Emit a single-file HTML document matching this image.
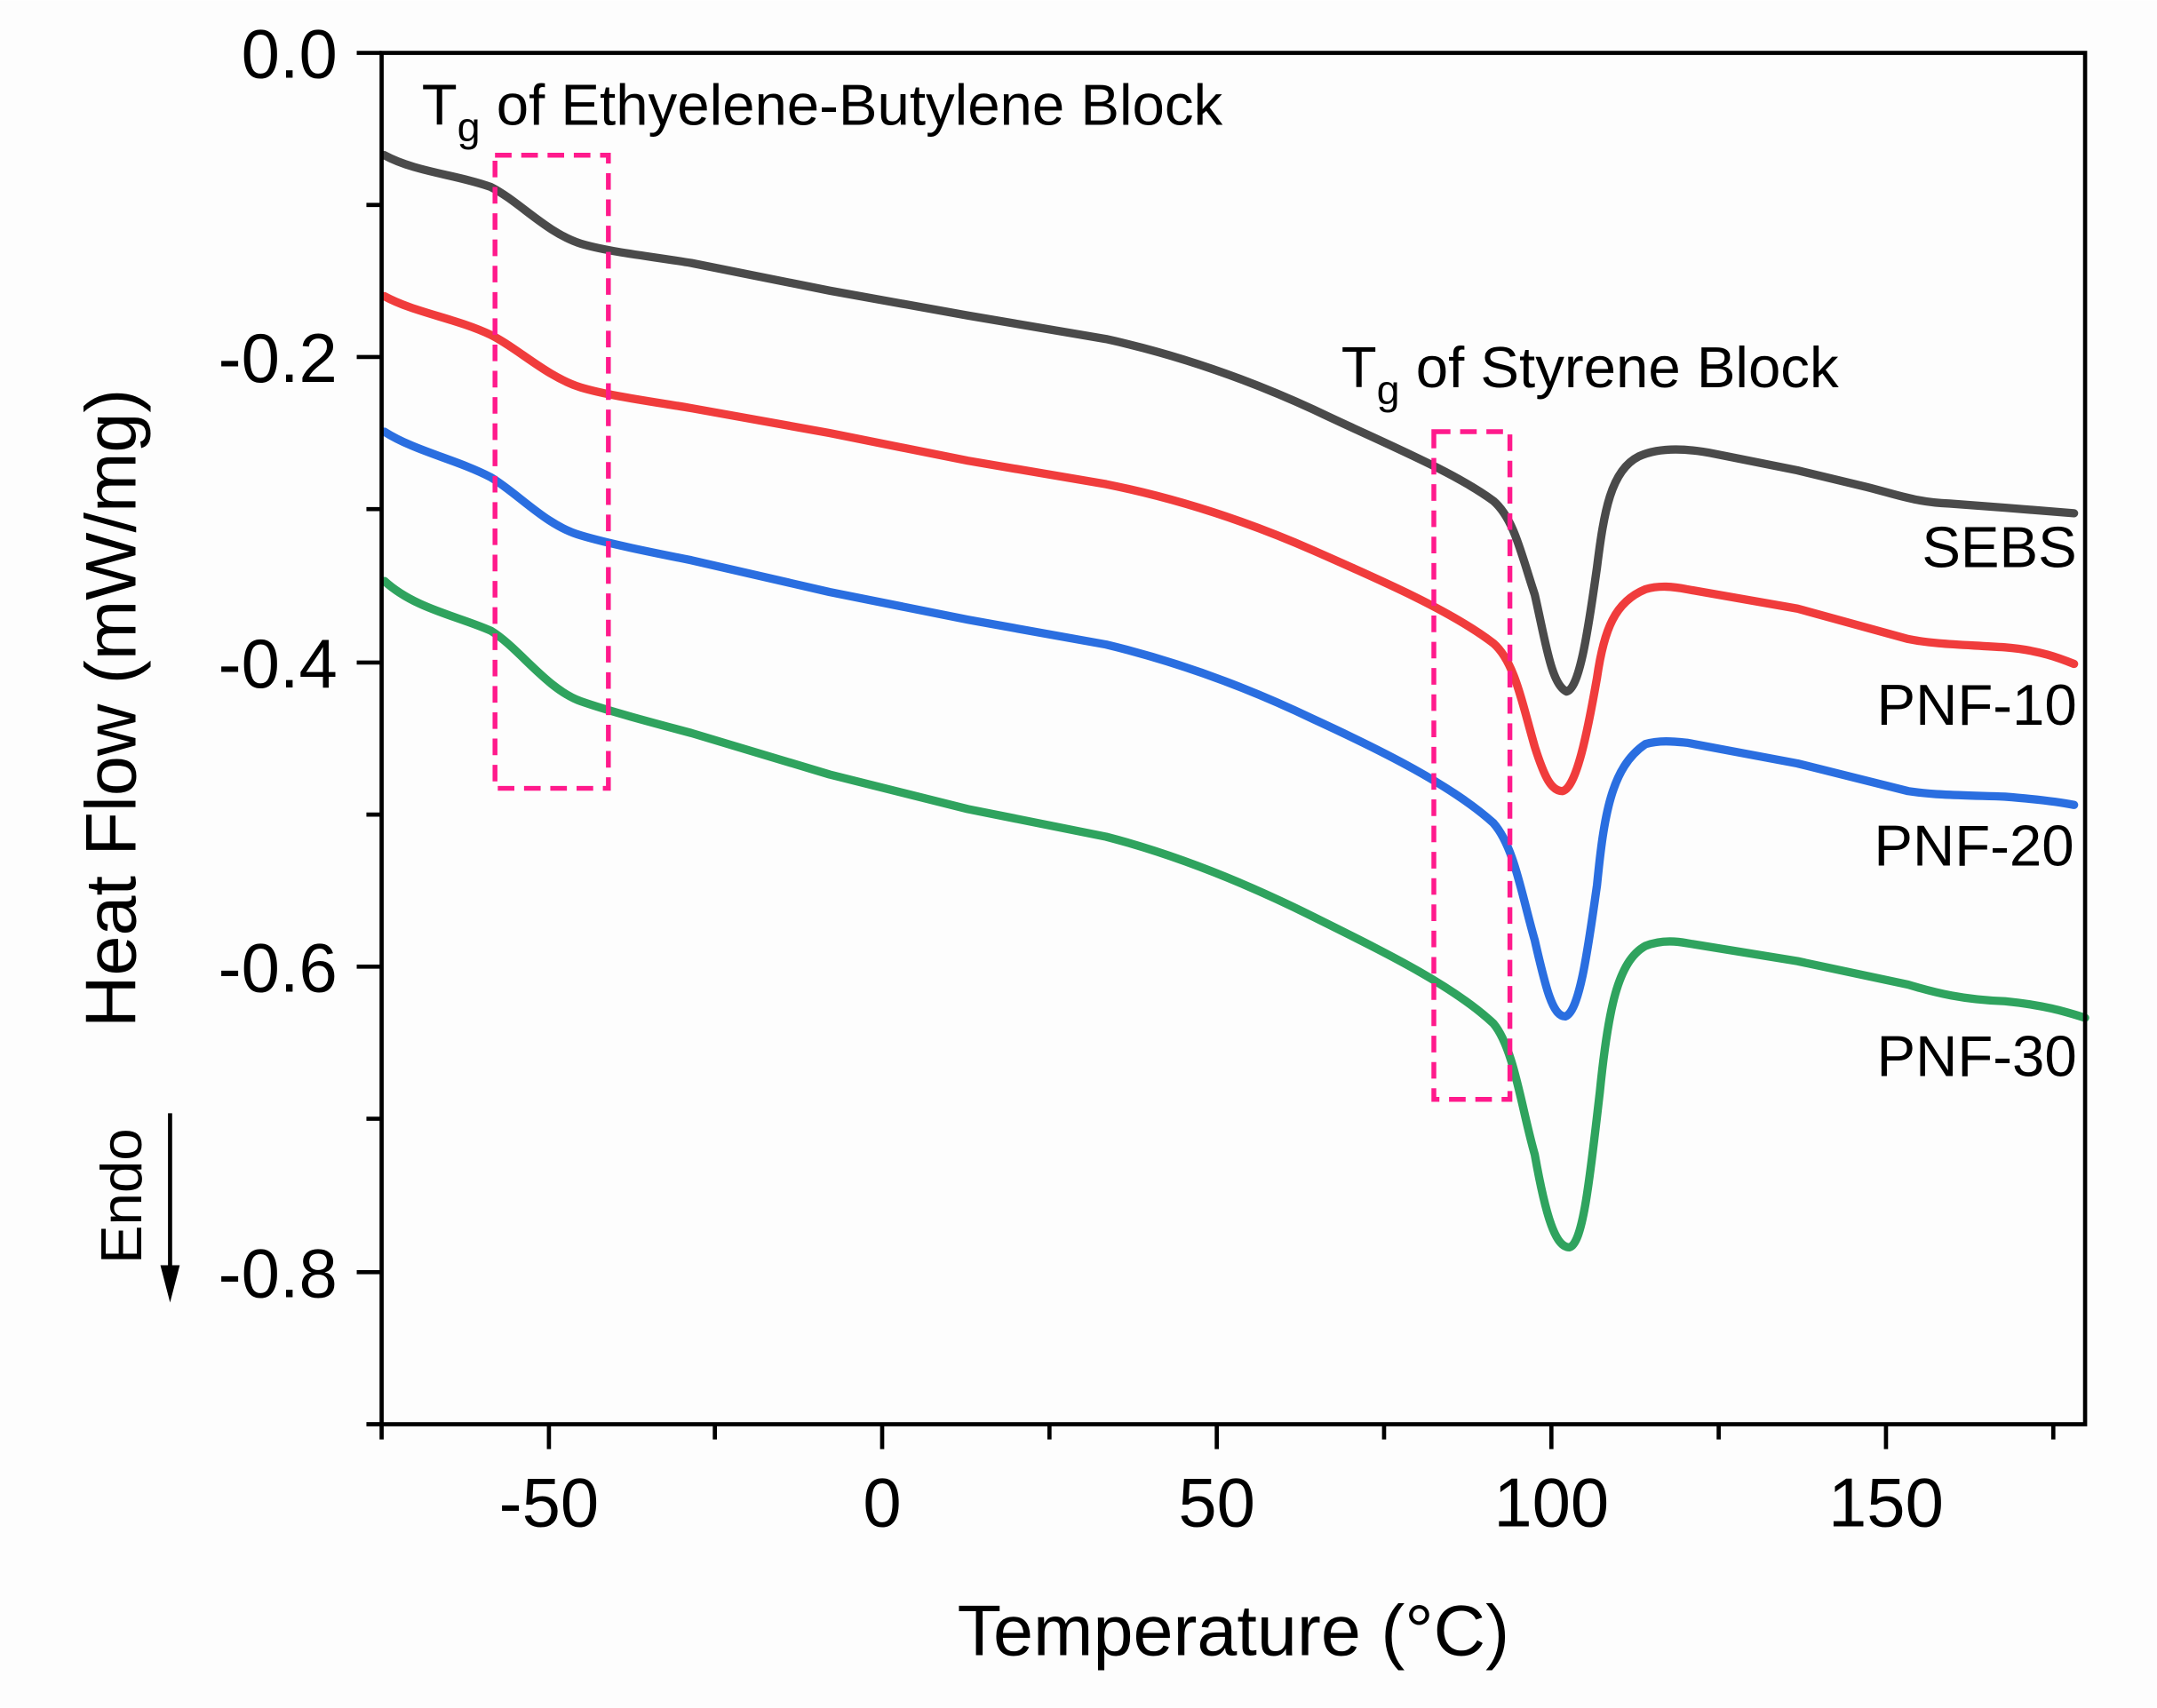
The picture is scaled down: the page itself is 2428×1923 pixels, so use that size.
<!DOCTYPE html>
<html><head><style>html,body{margin:0;padding:0;background:#fff}svg{display:block}</style></head><body>
<svg width="2428" height="1923" viewBox="0 0 1560 1235" xmlns="http://www.w3.org/2000/svg" font-family="Liberation Sans, Arial, sans-serif">
<rect width="1560" height="1235" fill="#fdfdfd"/>
<g fill="none" stroke-width="6" stroke-linejoin="round" stroke-linecap="round">
<path stroke="#4a4a4a" d="M278,112 C300,124 330,126 355,135 C375,145 395,168 420,176 C440,182 470,185 500,190 L600,210 L700,228 L800,245 C850,256 900,273 950,296 C1000,320 1050,340 1080,362 C1095,375 1100,400 1110,430 C1118,465 1122,495 1133,500 C1142,498 1148,460 1155,410 C1160,370 1165,340 1185,330 C1200,323 1220,324 1240,328 L1300,340 L1350,352 C1370,357 1385,363 1410,364 L1450,367 L1500,371"/>
<path stroke="#f03c3c" d="M278,214 C300,226 330,230 355,242 C375,252 395,272 420,280 C440,286 470,290 500,295 L600,313 L700,333 L800,350 C850,360 900,376 950,398 C1000,420 1050,442 1080,465 C1095,478 1100,505 1110,540 C1117,562 1122,572 1130,572 C1140,570 1148,530 1155,490 C1160,455 1168,435 1190,426 C1200,423 1210,424 1220,426 L1300,440 L1380,462 C1400,466 1420,466 1450,468 C1475,470 1490,476 1500,480"/>
<path stroke="#2a6ee0" d="M278,312 C300,326 330,332 355,345 C375,357 395,380 420,387 C440,393 470,399 500,405 L600,428 L700,448 L800,466 C850,478 900,496 950,520 C1000,543 1050,568 1080,595 C1095,612 1100,645 1110,680 C1118,715 1123,735 1132,735 C1142,732 1148,690 1155,640 C1160,590 1165,555 1190,538 C1200,535 1210,536 1220,537 L1300,552 L1380,572 C1400,575 1420,575 1450,576 C1475,578 1490,580 1500,582"/>
<path stroke="#2fa35e" d="M278,420 C300,440 330,445 355,456 C375,468 395,498 420,507 C440,514 470,522 500,530 L600,560 L700,585 L800,605 C850,618 900,638 950,663 C1000,688 1050,712 1080,740 C1095,758 1100,800 1110,835 C1118,880 1125,902 1135,902 C1145,900 1150,850 1157,790 C1163,730 1170,695 1190,684 C1200,680 1210,680 1220,682 L1300,695 L1380,712 C1400,718 1420,723 1450,724 C1480,727 1495,732 1508,736"/>
</g>
<g fill="none" stroke="#ff1a8c" stroke-width="3.5" stroke-dasharray="12,7">
<rect x="358" y="112" width="82" height="458"/>
<rect x="1037" y="312" width="55" height="483"/>
</g>
<g stroke="#000" stroke-width="3" fill="none">
<rect x="276" y="38" width="1232" height="992"/>
<path d="M276,38 h-18 M276,258 h-18 M276,479 h-18 M276,699 h-18 M276,920 h-18 M276,148 h-11 M276,368 h-11 M276,589 h-11 M276,809 h-11 M276,1030 h-11"/>
<path d="M397,1030 v18 M638,1030 v18 M880,1030 v18 M1122,1030 v18 M1364,1030 v18 M276,1030 v11 M517,1030 v11 M759,1030 v11 M1001,1030 v11 M1243,1030 v11 M1485,1030 v11"/>
</g>
<g font-size="50" fill="#000">
<g text-anchor="end">
<text x="244" y="56">0.0</text>
<text x="244" y="276">-0.2</text>
<text x="244" y="497">-0.4</text>
<text x="244" y="717">-0.6</text>
<text x="244" y="938">-0.8</text>
</g>
<g text-anchor="middle">
<text x="397" y="1104">-50</text>
<text x="638" y="1104">0</text>
<text x="880" y="1104">50</text>
<text x="1122" y="1104">100</text>
<text x="1364" y="1104">150</text>
<text x="892" y="1197" font-size="52">Temperature (°C)</text>
<text transform="translate(98,512) rotate(-90)" font-size="52">Heat Flow (mW/mg)</text>
<text transform="translate(102,865) rotate(-90)" font-size="42">Endo</text>
</g>
</g>
<path d="M123,805 V925" stroke="#000" stroke-width="3"/>
<path d="M116,915 L123,942 L130,915 Z" fill="#000"/>
<g font-size="42" fill="#000">
<text x="305" y="90">T<tspan font-size="30" dy="12">g</tspan><tspan dy="-12"> of Ethyelene-Butylene Block</tspan></text>
<text x="970" y="280">T<tspan font-size="30" dy="12">g</tspan><tspan dy="-12"> of Styrene Block</tspan></text>
<g text-anchor="end">
<text x="1502" y="410">SEBS</text>
<text x="1502" y="524">PNF-10</text>
<text x="1500" y="626">PNF-20</text>
<text x="1502" y="778">PNF-30</text>
</g>
</g>
</svg>
</body></html>
